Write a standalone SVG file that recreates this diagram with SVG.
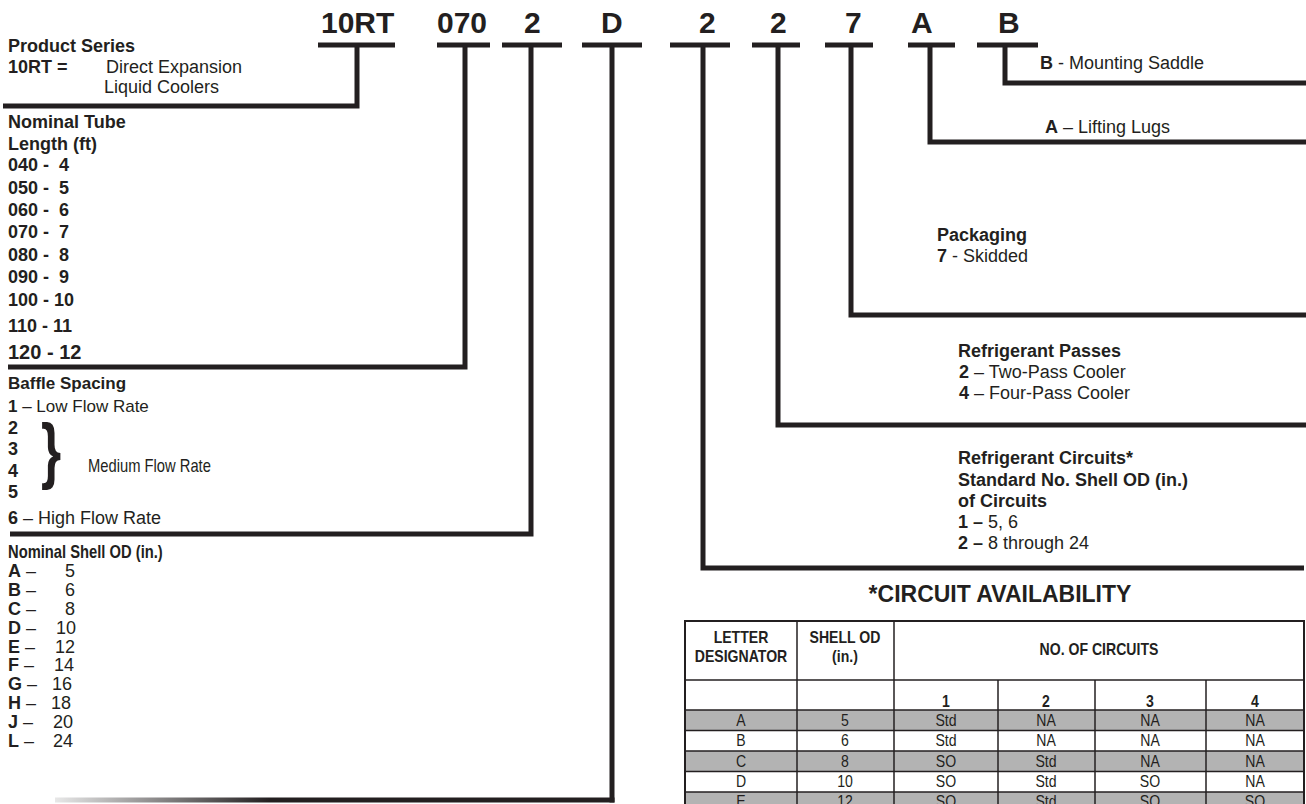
<svg xmlns="http://www.w3.org/2000/svg" width="1306" height="804" viewBox="0 0 1306 804">
<defs>
<style>
text{font-family:"Liberation Sans",Arial,sans-serif;fill:#231f20;}
.r{font-size:18px;}
.b{font-weight:bold;}
.big{font-size:20px;font-weight:bold;}
.code{font-size:30px;font-weight:bold;}
.n{font-size:18px;}
.nw{transform-box:fill-box;transform-origin:0 0;transform:scaleX(0.82);}
.ttl{font-size:23px;font-weight:bold;text-anchor:middle;}
.bar{stroke:#231f20;stroke-width:5;}
.conn{fill:none;stroke:#231f20;stroke-width:5;stroke-linejoin:miter;stroke-linecap:butt;}
.t text{font-size:16px;text-anchor:middle;transform-box:fill-box;transform-origin:50% 50%;transform:scaleX(0.88);}
.th{font-weight:bold;}
.grid{stroke:#231f20;stroke-width:1.5;fill:none;}
.shade{fill:#b3b3b3;}
</style>
<linearGradient id="fade" gradientUnits="userSpaceOnUse" x1="55" y1="0" x2="270" y2="0">
<stop offset="0" stop-color="#e8e8e8"/><stop offset="1" stop-color="#231f20"/>
</linearGradient>
</defs>
<rect width="1306" height="804" fill="#ffffff"/>

<g id="codes">
<g id="code-10RT"><text class="code" x="321" y="33">10RT</text><line class="bar" x1="318" y1="45" x2="395" y2="45"/></g>
<g id="code-070"><text class="code" x="437" y="33">070</text><line class="bar" x1="437" y1="45" x2="490" y2="45"/></g>
<g id="code-2a"><text class="code" x="524" y="33">2</text><line class="bar" x1="502" y1="45" x2="562" y2="45"/></g>
<g id="code-D"><text class="code" x="601" y="33">D</text><line class="bar" x1="582" y1="45" x2="642" y2="45"/></g>
<g id="code-2b"><text class="code" x="699" y="33">2</text><line class="bar" x1="670" y1="45" x2="730" y2="45"/></g>
<g id="code-2c"><text class="code" x="770" y="33">2</text><line class="bar" x1="752" y1="45" x2="800" y2="45"/></g>
<g id="code-7"><text class="code" x="845" y="33">7</text><line class="bar" x1="825" y1="45" x2="873" y2="45"/></g>
<g id="code-A"><text class="code" x="911" y="33">A</text><line class="bar" x1="908" y1="45" x2="955" y2="45"/></g>
<g id="code-B"><text class="code" x="998" y="33">B</text><line class="bar" x1="977" y1="45" x2="1038" y2="45"/></g>
</g>

<g id="connectors">
<path class="conn" d="M357,45 V106 H3"/>
<path class="conn" d="M465,45 V367 H8"/>
<path class="conn" d="M531,45 V534 H10"/>
<path class="conn" d="M612,45 V802.5"/>
<line x1="55" y1="800" x2="614.5" y2="800" stroke="url(#fade)" stroke-width="5"/>
<path class="conn" d="M703,45 V568 H1304"/>
<path class="conn" d="M778,45 V425 H1306"/>
<path class="conn" d="M851,45 V315 H1306"/>
<path class="conn" d="M930,45 V142 H1306"/>
<path class="conn" d="M1005,45 V83 H1306"/>
</g>

<g id="product-series" class="r">
<text class="b" x="8" y="52">Product Series</text>
<text class="b" x="8" y="73">10RT =</text>
<text x="106" y="73">Direct Expansion</text>
<text x="104" y="93">Liquid Coolers</text>
</g>

<g id="tube-length" class="r b">
<text x="8" y="128">Nominal Tube</text>
<text x="8" y="150">Length (ft)</text>
<text x="8" y="171">040 -&#160; 4</text>
<text x="8" y="194">050 -&#160; 5</text>
<text x="8" y="216">060 -&#160; 6</text>
<text x="8" y="238">070 -&#160; 7</text>
<text x="8" y="261">080 -&#160; 8</text>
<text x="8" y="283">090 -&#160; 9</text>
<text x="8" y="306">100 - 10</text>
<text x="8" y="332">110 - 11</text>
<text class="big" x="8" y="359">120 - 12</text>
</g>

<g id="baffle-spacing" class="n">
<text class="b" x="8" y="389" style="font-size:17px">Baffle Spacing</text>
<text x="8" y="412" style="font-size:17px"><tspan class="b">1</tspan> – Low Flow Rate</text>
<text class="b" x="8" y="434">2</text>
<text class="b" x="8" y="455">3</text>
<text class="b" x="8" y="477">4</text>
<text class="b" x="8" y="498">5</text>
<text x="8" y="524"><tspan class="b">6</tspan> – High Flow Rate</text>
<text x="41" y="475" transform="translate(41,0) scale(0.72,1) translate(-41,0)" style="font-size:72px;font-weight:bold">}</text>
<text class="nw" x="88" y="472">Medium Flow Rate</text>
</g>

<g id="shell-od" class="n">
<text class="b nw" x="8" y="558">Nominal Shell OD (in.)</text>
<text x="8" y="577"><tspan class="b">A</tspan> –</text><text x="75" y="577" text-anchor="end">5</text>
<text x="8" y="596"><tspan class="b">B</tspan> –</text><text x="75" y="596" text-anchor="end">6</text>
<text x="8" y="615"><tspan class="b">C</tspan> –</text><text x="75" y="615" text-anchor="end">8</text>
<text x="8" y="634"><tspan class="b">D</tspan> –</text><text x="76" y="634" text-anchor="end">10</text>
<text x="8" y="653"><tspan class="b">E</tspan> –</text><text x="75" y="653" text-anchor="end">12</text>
<text x="8" y="671"><tspan class="b">F</tspan> –</text><text x="74" y="671" text-anchor="end">14</text>
<text x="8" y="690"><tspan class="b">G</tspan> –</text><text x="72" y="690" text-anchor="end">16</text>
<text x="8" y="709"><tspan class="b">H</tspan> –</text><text x="71" y="709" text-anchor="end">18</text>
<text x="8" y="728"><tspan class="b">J</tspan> –</text><text x="73" y="728" text-anchor="end">20</text>
<text x="8" y="747"><tspan class="b">L</tspan> –</text><text x="73" y="747" text-anchor="end">24</text>
</g>

<g id="mounting" class="r">
<text x="1040" y="69"><tspan class="b">B</tspan> - Mounting Saddle</text>
</g>
<g id="lifting" class="r">
<text x="1045" y="133"><tspan class="b">A</tspan> – Lifting Lugs</text>
</g>
<g id="packaging" class="n">
<text class="b" x="937" y="241">Packaging</text>
<text x="937" y="262"><tspan class="b">7</tspan> - Skidded</text>
</g>
<g id="passes" class="n">
<text class="b" x="958" y="357">Refrigerant Passes</text>
<text x="959" y="378"><tspan class="b">2</tspan> – Two-Pass Cooler</text>
<text x="959" y="399"><tspan class="b">4</tspan> – Four-Pass Cooler</text>
</g>
<g id="circuits" class="n">
<text class="b" x="958" y="464">Refrigerant Circuits*</text>
<text class="b" x="958" y="486">Standard No. Shell OD (in.)</text>
<text class="b" x="958" y="507">of Circuits</text>
<text x="958" y="528"><tspan class="b">1 –</tspan> 5, 6</text>
<text x="958" y="549"><tspan class="b">2 –</tspan> 8 through 24</text>
</g>

<g id="availability-table">
<text class="ttl" x="1000" y="602">*CIRCUIT AVAILABILITY</text>
<rect class="shade" x="685" y="710" width="619" height="20.5"/>
<rect class="shade" x="685" y="751" width="619" height="20.5"/>
<rect class="shade" x="685" y="792" width="619" height="20"/>
<g class="grid">
<rect x="685" y="621" width="619" height="200" stroke-width="2"/>
<line x1="797" y1="621" x2="797" y2="804"/>
<line x1="894" y1="621" x2="894" y2="804"/>
<line x1="998" y1="680" x2="998" y2="804"/>
<line x1="1095" y1="680" x2="1095" y2="804"/>
<line x1="1206" y1="680" x2="1206" y2="804"/>
<line x1="685" y1="680" x2="1304" y2="680"/>
<line x1="685" y1="710" x2="1304" y2="710"/>
<line x1="685" y1="730.5" x2="1304" y2="730.5"/>
<line x1="685" y1="751" x2="1304" y2="751"/>
<line x1="685" y1="771.5" x2="1304" y2="771.5"/>
<line x1="685" y1="792" x2="1304" y2="792"/>
</g>
<g class="t">
<text class="th" x="741" y="643">LETTER</text>
<text class="th" x="741" y="662">DESIGNATOR</text>
<text class="th" x="845" y="643">SHELL OD</text>
<text class="th" x="845" y="662">(in.)</text>
<text class="th" x="1099" y="655">NO. OF CIRCUITS</text>
<text class="th" x="946" y="707">1</text>
<text class="th" x="1046" y="707">2</text>
<text class="th" x="1150" y="707">3</text>
<text class="th" x="1255" y="707">4</text>
<text x="741" y="726">A</text><text x="845" y="726">5</text><text x="946" y="726">Std</text><text x="1046" y="726">NA</text><text x="1150" y="726">NA</text><text x="1255" y="726">NA</text>
<text x="741" y="746.5">B</text><text x="845" y="746.5">6</text><text x="946" y="746.5">Std</text><text x="1046" y="746.5">NA</text><text x="1150" y="746.5">NA</text><text x="1255" y="746.5">NA</text>
<text x="741" y="767">C</text><text x="845" y="767">8</text><text x="946" y="767">SO</text><text x="1046" y="767">Std</text><text x="1150" y="767">NA</text><text x="1255" y="767">NA</text>
<text x="741" y="787.5">D</text><text x="845" y="787.5">10</text><text x="946" y="787.5">SO</text><text x="1046" y="787.5">Std</text><text x="1150" y="787.5">SO</text><text x="1255" y="787.5">NA</text>
<text x="741" y="807">E</text><text x="845" y="807">12</text><text x="946" y="807">SO</text><text x="1046" y="807">Std</text><text x="1150" y="807">SO</text><text x="1255" y="807">SO</text>
</g>
</g>
</svg>
